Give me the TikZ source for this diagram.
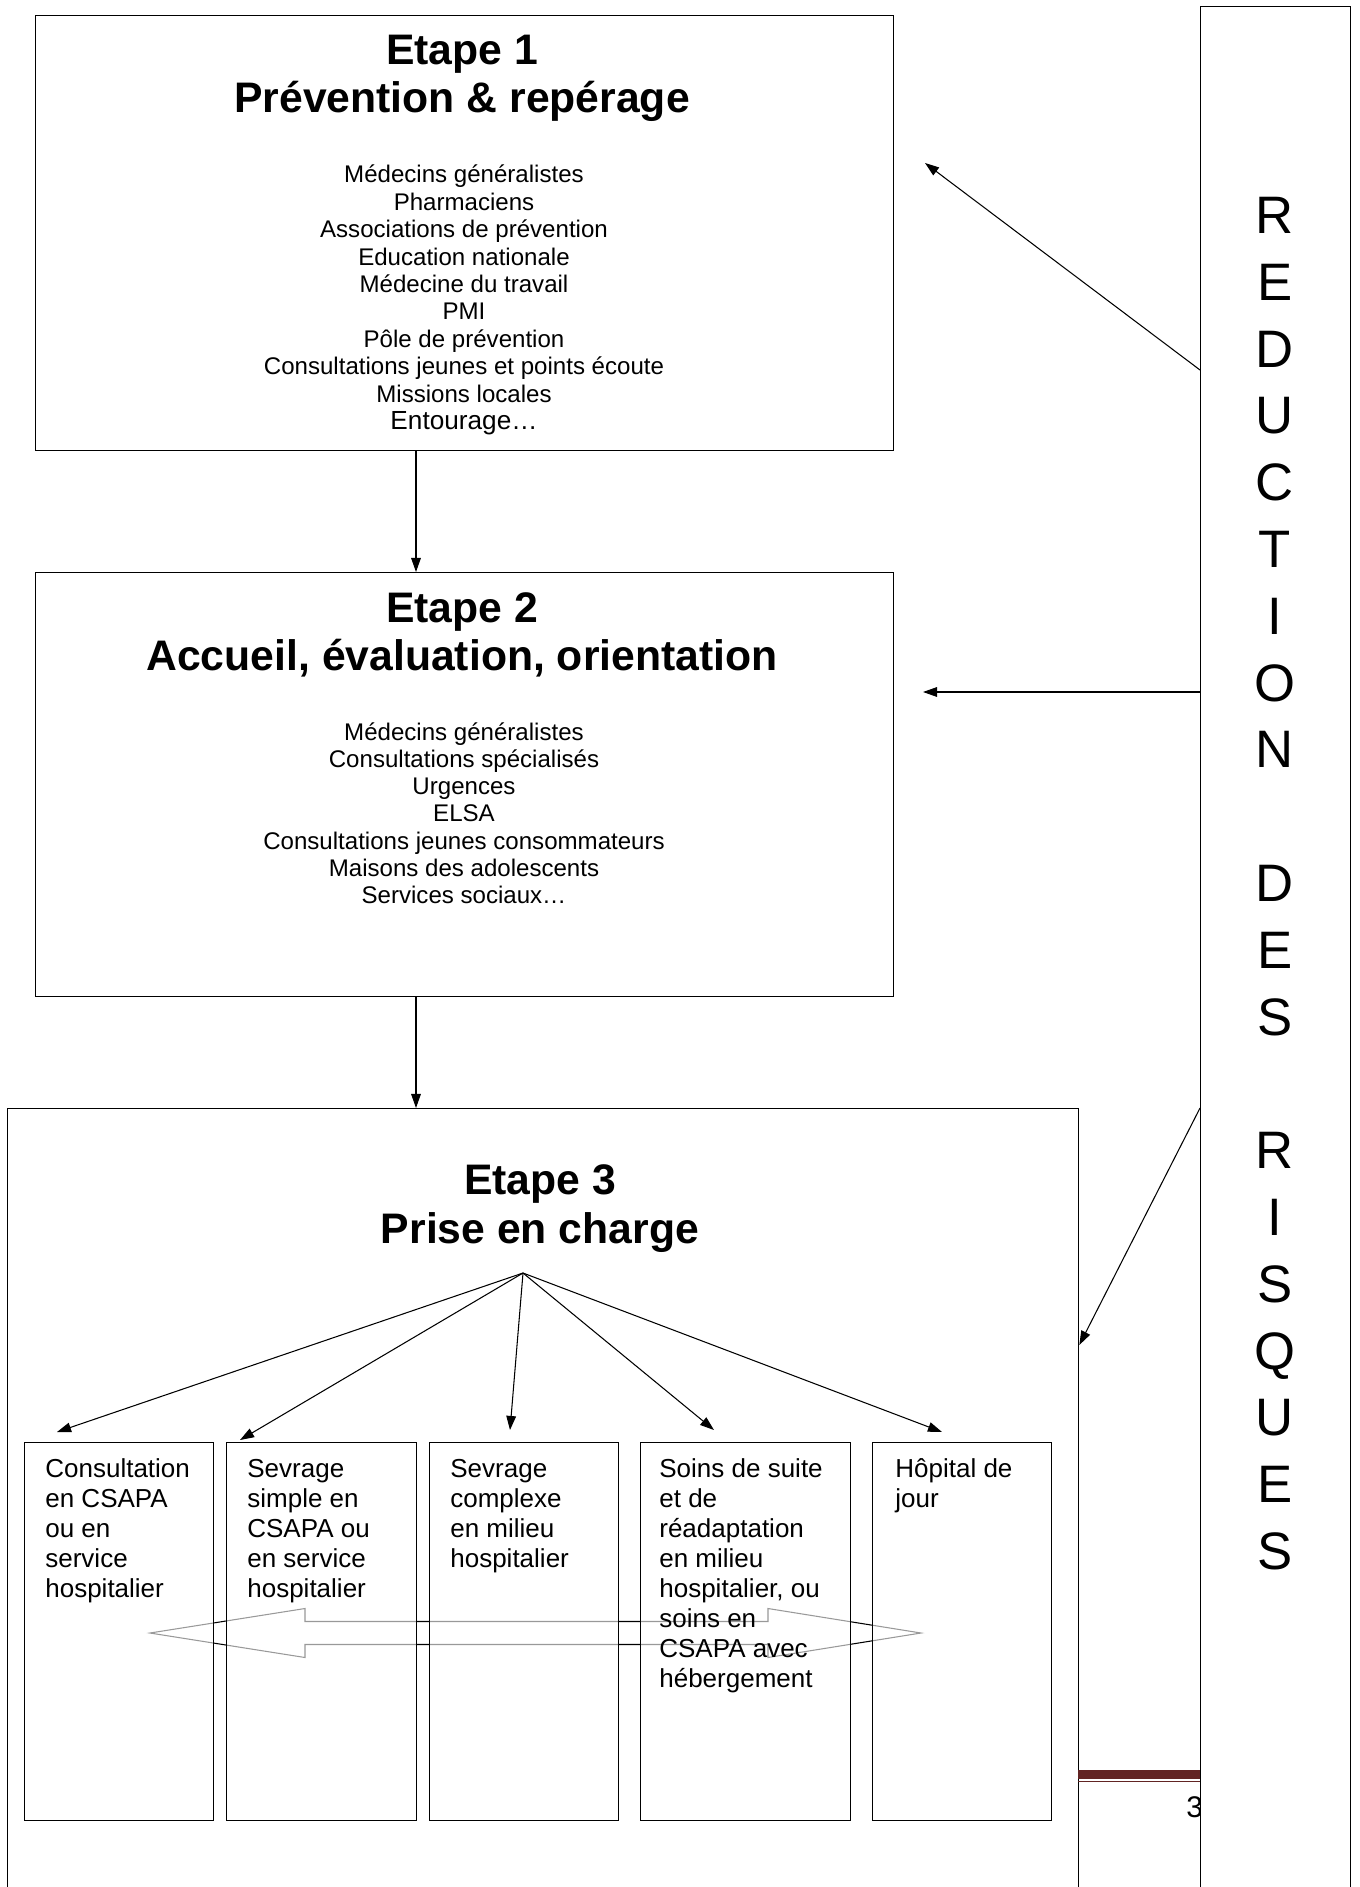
\documentclass[tikz,border=0pt]{standalone}
\usepackage{fontspec}
\setmainfont{Liberation Sans}
\usetikzlibrary{arrows.meta,calc}

\definecolor{barre}{RGB}{98,36,35}

\tikzset{
    cadre/.style={draw, line width=0.75pt, anchor=north west, inner sep=0pt},
    soin/.style={cadre, fill=white, fill opacity=0.6, minimum height=7.56cm},
    titre/.style={font=\fontsize{24.3}{27.3}\selectfont\bfseries, anchor=base, inner sep=0pt},
    liste/.style={font=\fontsize{13.7}{15.6}\selectfont, anchor=base, inner sep=0pt},
    soustexte/.style={font=\fontsize{14.8}{17}\selectfont, anchor=base west, inner sep=0pt},
    lettre/.style={font=\fontsize{30}{36}\selectfont, anchor=base, inner sep=0pt},
    fleche/.style={-{Triangle[length=8pt,width=5.5pt]}, line width=0.6pt},
}

\begin{document}
\begin{tikzpicture}
        \clip (0,0) rectangle (27.18,-37.74);
        \fill[white] (0,0) rectangle (27.18,-37.74);

        \node[cadre, minimum width=17.16cm, minimum height=8.70cm] (e1) at (0.70,-0.30) {};
        \node[titre] (e1t) at (9.24,-1.30) {Etape 1};
        \node[titre] (e1s) at (9.24,-2.26) {Prévention \& repérage};
        \foreach \l [count=\i] in {Médecins généralistes, Pharmaciens, Associations de prévention,
            Education nationale, Médecine du travail, PMI, Pôle de prévention,
            Consultations jeunes et points écoute, Missions locales,
            {\fontsize{14.9}{17}\selectfont Entourage…}} {
            \node[liste] (e1l\i) at (9.28,{-3.66-0.548*(\i-1)}) {\l};
        }

        \node[cadre, minimum width=17.16cm, minimum height=8.48cm] (e2) at (0.70,-11.44) {};
        \node[titre] (e2t) at (9.24,-12.44) {Etape 2};
        \node[titre] (e2s) at (9.24,-13.40) {Accueil, évaluation, orientation};
        \foreach \l [count=\i] in {Médecins généralistes, Consultations spécialisés, Urgences, ELSA,
            Consultations jeunes consommateurs, Maisons des adolescents, Services sociaux…} {
            \node[liste] (e2l\i) at (9.28,{-14.80-0.545*(\i-1)}) {\l};
        }

        \node[cadre, minimum width=21.42cm, minimum height=16cm] (e3) at (0.14,-22.16) {};
        \node[titre] (e3t) at (10.80,-23.88) {Etape 3};
        \node[titre] (e3s) at (10.80,-24.86) {Prise en charge};

        \draw[line width=0.6pt] (3.00,-32.66) -- (6.10,-32.17) -- (6.10,-32.43) -- (15.36,-32.43)
            -- (15.36,-32.17) -- (18.42,-32.66) -- (15.36,-33.15) -- (15.36,-32.89)
            -- (6.10,-32.89) -- (6.10,-33.15) -- cycle;

        \foreach \x/\w [count=\i] in {0.48/3.78, 4.52/3.80, 8.58/3.78, 12.80/4.20, 17.44/3.58} {
            \node[soin, minimum width=\w cm] (s\i) at (\x,-28.84) {};
        }
        \foreach \l [count=\j] in {Consultation, en CSAPA, ou en, service, hospitalier} {
            \node[soustexte] (s1t\j) at ($(s1.north west)+(0.42,{-0.70-0.60*(\j-1)})$) {\l};
        }
        \foreach \l [count=\j] in {Sevrage, simple en, CSAPA ou, en service, hospitalier} {
            \node[soustexte] (s2t\j) at ($(s2.north west)+(0.42,{-0.70-0.60*(\j-1)})$) {\l};
        }
        \foreach \l [count=\j] in {Sevrage, complexe, en milieu, hospitalier} {
            \node[soustexte] (s3t\j) at ($(s3.north west)+(0.42,{-0.70-0.60*(\j-1)})$) {\l};
        }
        \foreach \l [count=\j] in {Soins de suite, et de, réadaptation, en milieu, {hospitalier, ou},
            soins en, CSAPA avec, hébergement} {
            \node[soustexte] (s4t\j) at ($(s4.north west)+(0.38,{-0.70-0.60*(\j-1)})$) {\l};
        }
        \foreach \l [count=\j] in {Hôpital de, jour} {
            \node[soustexte] (s5t\j) at ($(s5.north west)+(0.46,{-0.70-0.60*(\j-1)})$) {\l};
        }

        \coordinate (src) at (10.46,-25.46);
        \foreach \x/\y [count=\i] in {1.14/-28.64, 4.80/-28.80, 10.20/-28.60, 14.28/-28.60, 18.84/-28.64} {
            \coordinate (f\i) at (\x,\y);
            \draw[fleche] (src) -- (f\i);
        }

        \fill[barre] (21.56,-35.40) rectangle (24.00,-35.58);
        \draw[barre, line width=0.85pt] (21.56,-35.63) -- (24.00,-35.63);
        \node[anchor=base west, inner sep=0pt, font=\fontsize{17}{20}\selectfont] (num) at (23.72,-36.34) {3};

        \node[cadre, fill=white, minimum width=3.00cm, minimum height=37.88cm] (rdr) at (24.00,-0.12) {};
        \foreach \l [count=\k] in {R,E,D,U,C,T,I,O,N,{},D,E,S,{},R,I,S,Q,U,E,S} {
            \node[lettre] (r\k) at (25.50,{-4.67-1.336*(\k-1)}) {\l};
        }

        \coordinate (ax) at (8.32,0);
        \draw[fleche] (e1.south -| ax) -- (e2.north -| ax);
        \draw[fleche] (e2.south -| ax) -- (e3.north -| ax);

        \coordinate (y1) at (0,-7.40);
        \coordinate (p1) at (18.50,-3.26);
        \coordinate (y2) at (0,-13.84);
        \coordinate (p2) at (18.46,-13.84);
        \coordinate (y3) at (0,-26.90);
        \draw[fleche] (rdr.west |- y1) -- (p1);
        \draw[fleche] (rdr.west |- y2) -- (p2);
        \draw[fleche] (rdr.west |- e3.north) -- (e3.east |- y3);
\end{tikzpicture}
\end{document}
